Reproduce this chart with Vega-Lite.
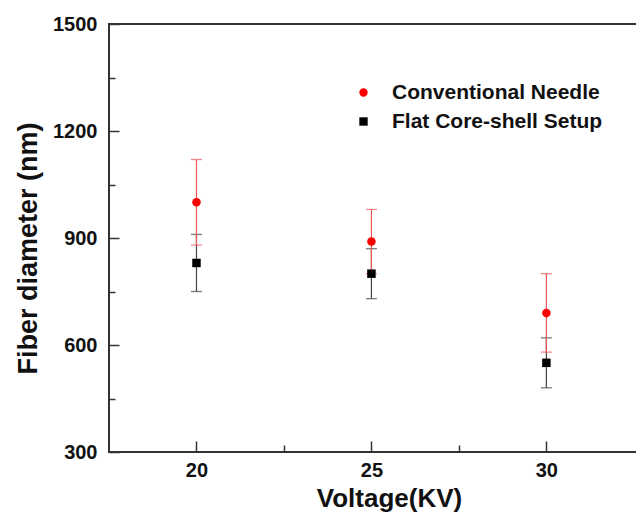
{
  "$schema": "https://vega.github.io/schema/vega-lite/v6.json",
  "autosize": {"type": "none"},
  "padding": {"left": 109, "top": 24, "right": 0, "bottom": 61},
  "width": 528,
  "height": 428,
  "background": "white",
  "data": {
    "values": [
      {"voltage": 20, "series": "Flat Core-shell Setup", "mean": 830, "lo": 750, "hi": 910},
      {"voltage": 25, "series": "Flat Core-shell Setup", "mean": 800, "lo": 730, "hi": 870},
      {"voltage": 30, "series": "Flat Core-shell Setup", "mean": 550, "lo": 480, "hi": 620},
      {"voltage": 20, "series": "Conventional Needle", "mean": 1000, "lo": 880, "hi": 1120},
      {"voltage": 25, "series": "Conventional Needle", "mean": 890, "lo": 800, "hi": 980},
      {"voltage": 30, "series": "Conventional Needle", "mean": 690, "lo": 580, "hi": 800}
    ]
  },
  "resolve": {"axis": {"x": "independent", "y": "independent"}},
  "layer": [
    {
      "transform": [{"filter": "datum.series === 'Flat Core-shell Setup'"}],
      "mark": {"type": "rule", "color": "#444", "strokeWidth": 1.2},
      "encoding": {
        "x": {"field": "voltage", "type": "quantitative", "scale": {"domain": [17.5, 32.59], "nice": false, "zero": false},
          "axis": {"orient": "bottom", "values": [20, 25, 30], "format": "d", "ticks": false, "domain": false, "grid": false, "labelPadding": 8, "labelFont": "Liberation Sans", "labelFontSize": 20, "labelFontWeight": "bold", "labelColor": "#111", "title": "Voltage(KV)", "titleFont": "Liberation Sans", "titleFontSize": 26, "titleFontWeight": "bold", "titleColor": "#111", "titlePadding": 5, "titleX": 280}},
        "y": {"field": "lo", "type": "quantitative", "scale": {"domain": [300, 1500], "nice": false, "zero": false},
          "axis": {"orient": "left", "values": [300, 600, 900, 1200, 1500], "format": "d", "ticks": false, "domain": false, "grid": false, "labelPadding": 12, "labelFont": "Liberation Sans", "labelFontSize": 20, "labelFontWeight": "bold", "labelColor": "#111", "title": "Fiber diameter (nm)", "titleFont": "Liberation Sans", "titleFontSize": 27, "titleFontWeight": "bold", "titleColor": "#111", "titlePadding": 10, "titleY": 224}},
        "y2": {"field": "hi"}
      }
    },
    {
      "transform": [{"filter": "datum.series === 'Flat Core-shell Setup'"}],
      "mark": {"type": "tick", "orient": "horizontal", "color": "#444", "size": 11, "thickness": 1.3},
      "encoding": {
        "x": {"field": "voltage", "type": "quantitative",
          "axis": {"orient": "bottom", "values": [20, 25, 30], "tickSize": -11, "tickColor": "#333", "tickWidth": 1.5, "labels": false, "domain": false, "grid": false, "title": null}},
        "y": {"field": "lo", "type": "quantitative",
          "axis": {"orient": "left", "values": [300, 600, 900, 1200, 1500], "tickSize": -10, "tickColor": "#333", "tickWidth": 1.5, "labels": false, "domain": false, "grid": false, "title": null}}
      }
    },
    {
      "transform": [{"filter": "datum.series === 'Flat Core-shell Setup'"}],
      "mark": {"type": "tick", "orient": "horizontal", "color": "#444", "size": 11, "thickness": 1.3},
      "encoding": {
        "x": {"field": "voltage", "type": "quantitative",
          "axis": {"orient": "bottom", "values": [22.5, 27.5], "tickSize": -7, "tickColor": "#333", "tickWidth": 1.5, "labels": false, "domain": false, "grid": false, "title": null}},
        "y": {"field": "hi", "type": "quantitative",
          "axis": {"orient": "left", "values": [450, 750, 1050, 1350], "tickSize": -6, "tickColor": "#333", "tickWidth": 1.5, "labels": false, "domain": false, "grid": false, "title": null}}
      }
    },
    {
      "transform": [{"filter": "datum.series === 'Conventional Needle'"}],
      "mark": {"type": "rule", "color": "#ee5555", "strokeWidth": 1.2},
      "encoding": {
        "x": {"field": "voltage", "type": "quantitative", "axis": null},
        "y": {"field": "lo", "type": "quantitative", "axis": null},
        "y2": {"field": "hi"}
      }
    },
    {
      "transform": [{"filter": "datum.series === 'Conventional Needle'"}],
      "mark": {"type": "tick", "orient": "horizontal", "color": "#ee5555", "size": 11, "thickness": 1.3},
      "encoding": {
        "x": {"field": "voltage", "type": "quantitative", "axis": null},
        "y": {"field": "lo", "type": "quantitative", "axis": null}
      }
    },
    {
      "transform": [{"filter": "datum.series === 'Conventional Needle'"}],
      "mark": {"type": "tick", "orient": "horizontal", "color": "#ee5555", "size": 11, "thickness": 1.3},
      "encoding": {
        "x": {"field": "voltage", "type": "quantitative", "axis": null},
        "y": {"field": "hi", "type": "quantitative", "axis": null}
      }
    },
    {
      "mark": {"type": "point", "filled": true, "opacity": 1, "size": 72},
      "encoding": {
        "x": {"field": "voltage", "type": "quantitative", "axis": null},
        "y": {"field": "mean", "type": "quantitative", "axis": null},
        "color": {"field": "series", "type": "nominal",
          "scale": {"domain": ["Conventional Needle", "Flat Core-shell Setup"], "range": ["#ff0000", "#000000"]},
          "legend": {"orient": "none", "legendX": 244, "legendY": 58, "title": null, "labelFont": "Liberation Sans", "labelFontSize": 21, "labelFontWeight": "bold", "labelColor": "#111", "labelLimit": 0, "symbolSize": 70, "symbolStrokeWidth": 0, "labelOffset": 18, "rowPadding": 7}},
        "shape": {"field": "series", "type": "nominal",
          "scale": {"domain": ["Conventional Needle", "Flat Core-shell Setup"], "range": ["circle", "square"]},
          "legend": {"orient": "none", "legendX": 244, "legendY": 58, "title": null, "labelFont": "Liberation Sans", "labelFontSize": 21, "labelFontWeight": "bold", "labelColor": "#111", "labelLimit": 0, "symbolSize": 70, "symbolStrokeWidth": 0, "labelOffset": 18, "rowPadding": 7}}
      }
    }
  ],
  "config": {
    "view": {"stroke": "#333", "strokeWidth": 2},
    "tick": {"bandSize": 11}
  }
}
